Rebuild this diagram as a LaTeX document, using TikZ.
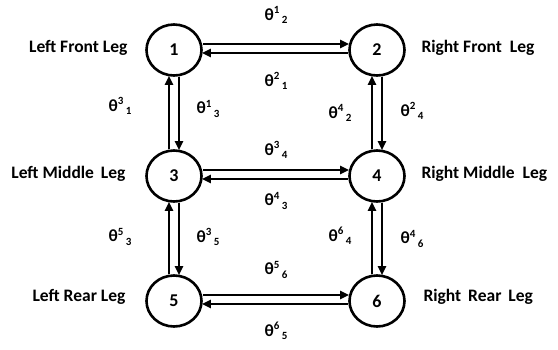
\documentclass[tikz,border=0pt]{standalone}
\usepackage{fontspec}
\setmainfont{Carlito}
\usetikzlibrary{shapes.geometric,arrows.meta}
\newcommand{\thl}[2]{\fontsize{17}{19}\selectfont θ\raisebox{0.8ex}{\fontsize{11}{12}\selectfont #1}\hspace{2.5pt}\raisebox{-0.45ex}{\fontsize{11}{12}\selectfont #2}}
\tikzset{
  leg/.style={draw, line width=2.6pt, ellipse, minimum width=55pt, minimum height=51pt, inner sep=0pt,
              font=\fontsize{18}{20}\selectfont\bfseries},
  link/.style={line width=2.2pt, -{Triangle[length=9pt,width=8pt]}, shorten >=-1pt},
  legname/.style={font=\fontsize{17.5}{20}\selectfont\bfseries},
  theta/.style={font=\bfseries, inner sep=0pt}
}
\begin{document}
\begin{tikzpicture}[x=1pt,y=-1pt]
\useasboundingbox (0,0) rectangle (558,349);
% legs
\node[leg] (n1) at (174,50) {1};
\node[leg] (n2) at (377,50) {2};
\node[leg] (n3) at (174,176) {3};
\node[leg] (n4) at (377,176) {4};
\node[leg] (n5) at (174,301) {5};
\node[leg] (n6) at (377,301) {6};
% leg names
\node[legname, anchor=east] (l1) at (131,48) {Left Front Leg};
\node[legname, anchor=west] (l2) at (418,48) {Right Front\hspace{4pt} Leg};
\node[legname, anchor=east] (l3) at (129,174) {Left Middle\hspace{3pt} Leg};
\node[legname, anchor=west] (l4) at (418,174) {Right Middle\hspace{4pt} Leg};
\node[legname, anchor=east] (l5) at (129,297) {Left Rear Leg};
\node[legname, anchor=west] (l6) at (420,297) {Right\hspace{3pt} Rear\hspace{3pt} Leg};
% horizontal links
\foreach \a/\b in {n1/n2, n3/n4, n5/n6}{
  \draw[link] ([yshift=6pt]\a.east) -- ([yshift=6pt]\b.west);
  \draw[link] ([yshift=-3pt]\b.west) -- ([yshift=-3pt]\a.east);
}
% vertical links
\foreach \a/\b in {n1/n3, n3/n5, n2/n4, n4/n6}{
  \draw[link] ([xshift=-5pt]\b.north) -- ([xshift=-5pt]\a.south);
  \draw[link] ([xshift=5pt]\a.south) -- ([xshift=5pt]\b.north);
}
% transition labels
\node[theta] (t12) at (276,15) {\thl{1}{2}};
\node[theta] (t21) at (276,81) {\thl{2}{1}};
\node[theta] (t31) at (120,106) {\thl{3}{1}};
\node[theta] (t13) at (208,109) {\thl{1}{3}};
\node[theta] (t42) at (340,113) {\thl{4}{2}};
\node[theta] (t24) at (412,111) {\thl{2}{4}};
\node[theta] (t34) at (276,150) {\thl{3}{4}};
\node[theta] (t43) at (276,201) {\thl{4}{3}};
\node[theta] (t53) at (120,237) {\thl{5}{3}};
\node[theta] (t35) at (208,237) {\thl{3}{5}};
\node[theta] (t64) at (340,236) {\thl{6}{4}};
\node[theta] (t46) at (412,239) {\thl{4}{6}};
\node[theta] (t56) at (276,270) {\thl{5}{6}};
\node[theta] (t65) at (276,331) {\thl{6}{5}};
\end{tikzpicture}
\end{document}
